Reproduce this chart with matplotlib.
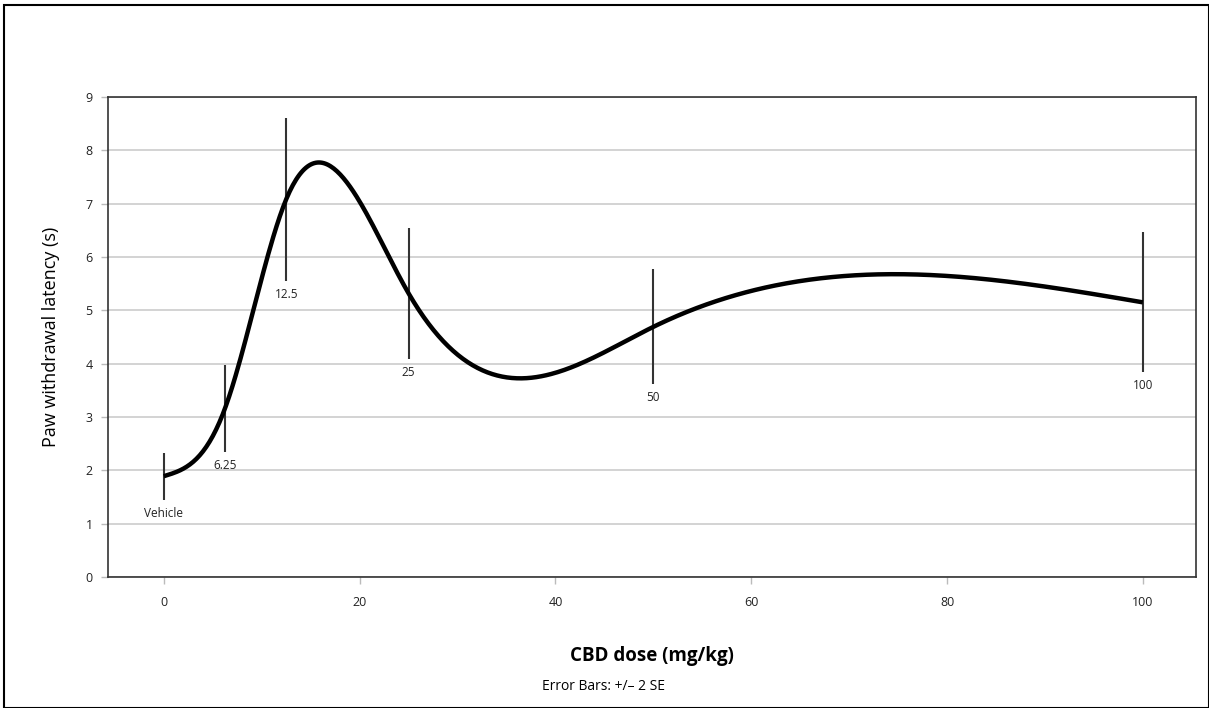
import numpy as np
import matplotlib
matplotlib.use("Agg")
import matplotlib.pyplot as plt
from matplotlib.patches import Rectangle

# values
dose = [0, 6.25, 12.5, 25, 50, 100]
dose_labels = ["Vehicle", "6.25", "12.5", "25", "50", "100"]
latency = [1.89, 3.16, 7.08, 5.32, 4.69, 5.15]
err_2se = [0.44, 0.82, 1.53, 1.23, 1.08, 1.31]


def natural_spline(x, y, xs):
    # natural cubic spline through the measured points
    x = np.asarray(x, float)
    y = np.asarray(y, float)
    n = len(x)
    h = np.diff(x)
    A = np.zeros((n, n))
    b = np.zeros(n)
    A[0, 0] = 1
    A[-1, -1] = 1
    for i in range(1, n - 1):
        A[i, i - 1] = h[i - 1]
        A[i, i] = 2 * (h[i - 1] + h[i])
        A[i, i + 1] = h[i]
        b[i] = 6 * ((y[i + 1] - y[i]) / h[i] - (y[i] - y[i - 1]) / h[i - 1])
    M = np.linalg.solve(A, b)
    out = np.empty_like(xs)
    for k, t in enumerate(xs):
        i = min(max(np.searchsorted(x, t) - 1, 0), n - 2)
        a = x[i + 1] - t
        c = t - x[i]
        out[k] = (M[i] * a**3 + M[i + 1] * c**3) / (6 * h[i]) \
            + (y[i] / h[i] - M[i] * h[i] / 6) * a \
            + (y[i + 1] / h[i] - M[i + 1] * h[i] / 6) * c
    return out


plt.rcParams['font.family'] = ['Open Sans', 'DejaVu Sans']

fig = plt.figure(figsize=(12.09, 7.08), dpi=100)
ax = fig.add_axes([0.0893, 0.185, 0.8997, 0.678])

xs = np.linspace(dose[0], dose[-1], 600)
ax.plot(xs, natural_spline(dose, latency, xs), color="black", lw=3.2,
        solid_capstyle="butt", zorder=3)

lat = np.array(latency)
err = np.array(err_2se)
ax.vlines(dose, lat - err, lat + err, color="#333333", lw=1.5, zorder=2)
for d, lab, lo in zip(dose, dose_labels, lat - err):
    ax.annotate(lab, (d, lo), xytext=(0, -5), textcoords="offset points",
                ha="center", va="top", fontsize=8.5, color="#222222")

ax.set_xlim(-5.7, 105.4)
ax.set_ylim(0, 9)
ax.set_xticks([0, 20, 40, 60, 80, 100])
ax.set_yticks(range(10))
ax.yaxis.grid(True, color="#cccccc", lw=1.2)
ax.set_axisbelow(True)
for s in ax.spines.values():
    s.set_color("#333333")
    s.set_linewidth(1.2)
ax.tick_params(axis="both", color="#bbbbbb", length=5, width=1,
               labelsize=9, labelcolor="#222222")
ax.tick_params(axis="x", pad=9)
ax.tick_params(axis="y", pad=6)

ax.set_ylabel("Paw withdrawal latency (s)", fontsize=13, labelpad=18)
ax.set_xlabel("CBD dose (mg/kg)", fontsize=13.5, fontweight="bold", labelpad=26)
fig.text(0.499, 0.03, "Error Bars: +/\u2013 2 SE", ha="center", va="center",
         fontsize=10)

fig.patches.append(Rectangle((0.003, 0.0), 0.997, 0.993, transform=fig.transFigure,
                             fill=False, edgecolor="black", lw=1.5))

fig.savefig("out.png", dpi=100)
